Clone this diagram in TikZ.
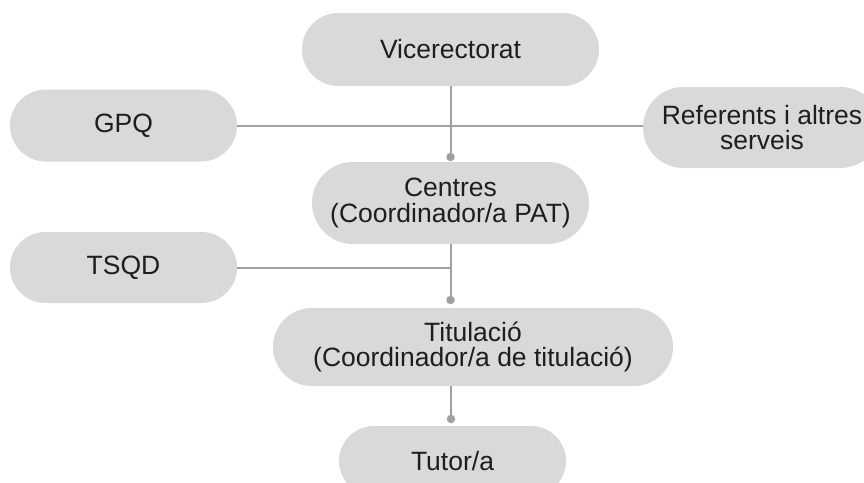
\documentclass[tikz,border=0pt]{standalone}
\usepackage{fontspec}
\setmainfont{Liberation Sans}
\definecolor{boxgray}{HTML}{D9D9D9}
\definecolor{linegray}{HTML}{A0A0A0}
\definecolor{txt}{HTML}{1E1E1E}
\begin{document}
\begin{tikzpicture}[x=1pt,y=-1pt,
  box/.style={rectangle, fill=boxgray, draw=none, text=txt,
    font=\fontsize{26.5}{25.5}\selectfont, align=center, inner sep=0pt},
  link/.style={draw=linegray, line width=2pt},
  dotnode/.style={circle, fill=linegray, inner sep=0pt, minimum size=8.5pt}]
\path[use as bounding box, clip] (0,0) rectangle (864,482);

\node[box, minimum width=297pt, minimum height=73pt, rounded corners=36.5pt] (vic) at (450.5,49.5) {Vicerectorat};
\node[box, minimum width=227pt, minimum height=72pt, rounded corners=36pt] (gpq) at (123.5,125.5) {GPQ};
\node[box, minimum width=238pt, minimum height=81pt, rounded corners=40.5pt] (ref) at (762,127.5) {Referents i altres\\serveis};
\node[box, minimum width=277pt, minimum height=82pt, rounded corners=41pt] (cen) at (450.5,203) {Centres\\(Coordinador/a PAT)};
\node[box, minimum width=227pt, minimum height=71pt, rounded corners=35.5pt] (tsqd) at (123.5,267.5) {TSQD};
\node[box, minimum width=400pt, minimum height=78pt, rounded corners=39pt] (tit) at (473,347) {Titulació\\(Coordinador/a de titulació)};
\node[box, minimum width=227pt, minimum height=70pt, rounded corners=35pt] (tut) at (452.5,461) {Tutor/a};

\node[dotnode] (d1) at (450.5,157) {};
\node[dotnode] (d2) at (450.5,300) {};
\node[dotnode] (d3) at (451,419) {};

\draw[link] (vic.south) -- (d1.center);
\draw[link] (gpq.east) -- (gpq.east -| ref.west);
\draw[link] (cen.south) -- (d2.center);
\draw[link] (tsqd.east) -- (tsqd.east -| d2);
\draw[link] (d3 |- tit.south) -- (d3.center);
\end{tikzpicture}
\end{document}
